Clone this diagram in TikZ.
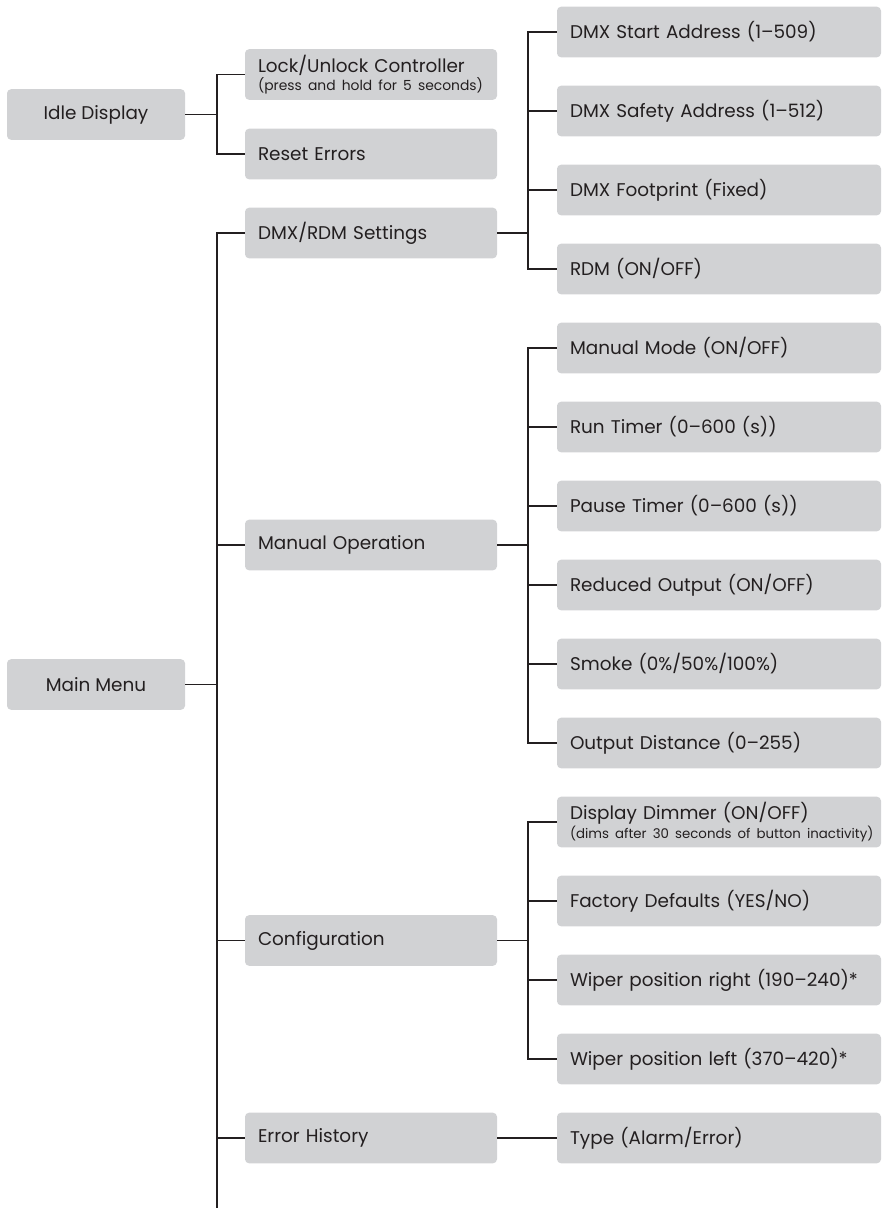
\documentclass[tikz,border=0pt]{standalone}
\usepackage{fontspec}
\setmainfont{Poppins}
\definecolor{ink}{RGB}{35,31,32}
\definecolor{boxgray}{RGB}{209,210,212}
\newcommand{\subfont}{\fontsize{10.4}{12}\selectfont}
\newcommand{\subfontb}{\fontsize{10}{12}\selectfont}
\begin{document}
\begin{tikzpicture}[x=0.75pt,y=-0.75pt,
  box/.style={fill=boxgray,rounded corners=3pt,draw=none,minimum height=37.9pt,inner ysep=0pt,text=ink},
  lbox/.style={box,minimum width=133.5pt,align=center,font=\fontsize{13.8}{16}\selectfont},
  mbox/.style={box,inner xsep=9.75pt,text width=169.5pt,align=left,font=\fontsize{13.8}{16}\selectfont},
  rbox/.style={box,inner xsep=9.75pt,text width=223.5pt,align=left,font=\fontsize{13.8}{16}\selectfont},
  conn/.style={draw=ink,line width=1.25pt}]
\useasboundingbox (0,0) rectangle (887,1208);
% left column
\node[lbox] (idle) at (96,114.5) {Idle Display};
\node[lbox] (main) at (96,684.5) {Main Menu};
% middle column
\node[mbox] (lock) at (371,74.5) {Lock/Unlock Controller\\[-2pt]\mbox{\subfont (press and hold for 5 seconds)}};
\node[mbox] (reset) at (371,154) {Reset Errors};
\node[mbox] (dmx) at (371,233) {DMX/RDM Settings};
\node[mbox] (manop) at (371,545) {Manual Operation};
\node[mbox] (config) at (371,940.5) {Configuration};
\node[mbox] (errh) at (371,1138) {Error History};
% right column
\node[rbox] (r0) at (719,32) {DMX Start Address (1--509)};
\node[rbox] (r1) at (719,111) {DMX Safety Address (1--512)};
\node[rbox] (r2) at (719,190) {DMX Footprint (Fixed)};
\node[rbox] (r3) at (719,269) {RDM (ON/OFF)};
\node[rbox] (r4) at (719,348) {Manual Mode (ON/OFF)};
\node[rbox] (r5) at (719,427) {Run Timer (0--600 (s))};
\node[rbox] (r6) at (719,506) {Pause Timer (0--600 (s))};
\node[rbox] (r7) at (719,585) {Reduced Output (ON/OFF)};
\node[rbox] (r8) at (719,664) {Smoke (0\%/50\%/100\%)};
\node[rbox] (r9) at (719,743) {Output Distance (0--255)};
\node[rbox] (r10) at (719,822) {Display Dimmer (ON/OFF)\\[-2pt]\mbox{\subfontb (dims after 30 seconds of button inactivity)}};
\node[rbox] (r11) at (719,901) {Factory Defaults (YES/NO)};
\node[rbox] (r12) at (719,980) {Wiper position right (190--240)*};
\node[rbox] (r13) at (719,1059) {Wiper position left (370--420)*};
\node[rbox] (r14) at (719,1138) {Type (Alarm/Error)};
% bus coordinates
\coordinate (busL) at (217,0);
\coordinate (busR) at (528,0);
\coordinate (spineEnd) at (217,1208);
% idle display
\draw[conn] (idle.east) -- (idle.east -| busL);
\draw[conn] (lock.west) -- (lock.west -| busL) -- (reset.west -| busL) -- (reset.west);
% main menu
\draw[conn] (main.east) -- (main.east -| busL);
\draw[conn] (dmx.west) -- (dmx.west -| busL) -- (spineEnd);
\draw[conn] (manop.west) -- (manop.west -| busL);
\draw[conn] (config.west) -- (config.west -| busL);
\draw[conn] (errh.west) -- (errh.west -| busL);
% dmx
\draw[conn] (dmx.east) -- (dmx.east -| busR);
\draw[conn] (r0.west) -- (r0.west -| busR) -- (r3.west -| busR) -- (r3.west);
\draw[conn] (r1.west) -- (r1.west -| busR);
\draw[conn] (r2.west) -- (r2.west -| busR);
% manual
\draw[conn] (manop.east) -- (manop.east -| busR);
\draw[conn] (r4.west) -- (r4.west -| busR) -- (r9.west -| busR) -- (r9.west);
\foreach \i in {5,6,7,8} \draw[conn] (r\i.west) -- (r\i.west -| busR);
% config
\draw[conn] (config.east) -- (config.east -| busR);
\draw[conn] (r10.west) -- (r10.west -| busR) -- (r13.west -| busR) -- (r13.west);
\foreach \i in {11,12} \draw[conn] (r\i.west) -- (r\i.west -| busR);
% error history
\draw[conn] (errh.east) -- (r14.west);
\end{tikzpicture}
\end{document}
